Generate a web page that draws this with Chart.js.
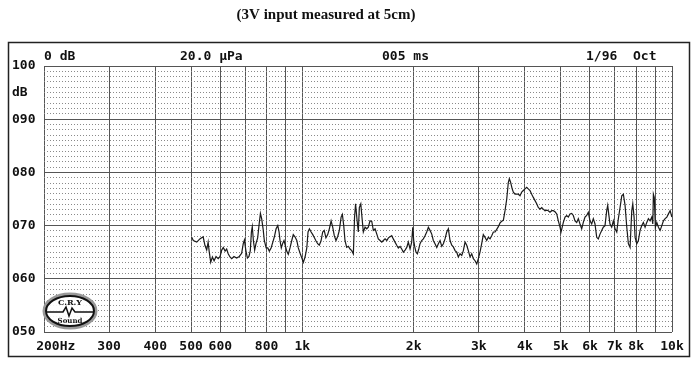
<!DOCTYPE html>
<html>
<head>
<meta charset="utf-8">
<script src="https://cdn.jsdelivr.net/npm/chart.js@4"></script>
<style>
  html, body { margin: 0; padding: 0; background: #fff; }
  #wrap { width: 700px; height: 366px; position: relative; }
</style>
</head>
<body>
<div id="wrap"><canvas id="c" width="700" height="366"></canvas></div>
<script>
const titleText = '(3V input measured at 5cm)';
const headerTexts = ['0 dB', '20.0 \u00b5Pa', '005 ms', '1/96', 'Oct'];

const gridFreqs = [200, 300, 400, 500, 600, 700, 800, 900, 1000, 2000, 3000, 4000, 5000, 6000, 7000, 8000, 9000, 10000];
const freqLabels = ['   200Hz', '300', '400', '500', '600', '', '800', '', '1k', '2k', '3k', '4k', '5k', '6k', '7k', '8k', '', '10k'];

const levelTicks = [50, 60, 70, 80, 90, 95, 100];
const levelLabels = ['050', '060', '070', '080', '090', 'dB', '100'];

const freqs = [
  502, 507, 518, 528, 539, 545, 551, 556, 560, 565, 571, 577, 584, 592, 599, 605, 611, 618, 624, 630,
  637, 644, 653, 664, 675, 685, 692, 697, 703, 710, 717, 723, 728, 732, 737, 743, 749, 757, 764, 770,
  776, 783, 789, 798, 806, 814, 823, 832, 840, 849, 858, 865, 870, 877, 885, 892, 899, 907, 916, 926,
  936, 945, 955, 966, 975, 986, 998, 1006, 1017, 1028, 1036, 1045, 1056, 1067, 1078, 1089, 1100, 1111, 1123, 1135,
  1146, 1158, 1171, 1183, 1196, 1208, 1220, 1233, 1247, 1259, 1273,
  1283, 1294, 1304, 1318, 1332, 1346, 1360, 1374, 1384, 1393, 1406, 1417, 1426, 1439, 1450, 1462, 1478, 1493, 1508, 1524,
  1541, 1556, 1573, 1590, 1605, 1623, 1640, 1656, 1674, 1692, 1709, 1727, 1745, 1762, 1781, 1800, 1818, 1838, 1857, 1876,
  1896, 1916, 1935, 1956, 1976, 1989, 2001, 2014, 2030, 2047, 2065, 2081, 2103, 2125, 2147, 2170, 2192, 2215, 2239, 2261,
  2285, 2310, 2333, 2358, 2383, 2407, 2432, 2458, 2483, 2509, 2536, 2561, 2589, 2616, 2642, 2670, 2699, 2726, 2755, 2784,
  2812, 2842, 2872, 2901, 2932, 2963, 2993, 3024, 3056, 3087, 3120, 3153, 3185, 3219, 3253, 3286, 3321, 3356, 3390, 3426,
  3462, 3497, 3534, 3572, 3607, 3630, 3657, 3692, 3722, 3761, 3801, 3839, 3880, 3921, 3960, 4002, 4045, 4085, 4129, 4173,
  4215, 4260, 4305, 4348, 4395, 4442, 4486, 4534, 4582, 4628, 4677, 4727, 4774, 4826, 4877, 4926, 4978, 5009, 5047, 5082,
  5136, 5190, 5242, 5298, 5354, 5408, 5465, 5523, 5579, 5638, 5698, 5755, 5816, 5877, 5937, 6000, 6064, 6125, 6190, 6256,
  6319, 6386, 6454, 6518, 6588, 6658, 6700, 6742, 6796, 6869, 6939, 7013, 7088, 7160, 7236, 7313, 7386, 7465, 7545, 7620,
  7701, 7783, 7832, 7896, 7946, 8030, 8110, 8197, 8284, 8367, 8456, 8546, 8632, 8724, 8817, 8872, 8905, 8955, 9017, 9096,
  9189, 9287, 9386, 9480, 9581, 9683, 9780, 9885, 9990
];
const levels = [
  67.8, 67.2, 66.9, 67.5, 67.9, 66.3, 65.4, 66.9, 65.0, 63.1, 64.1, 63.4, 64.2, 63.8, 64.2, 65.4, 65.9, 65.2, 65.6, 64.7,
  64.1, 63.8, 64.2, 63.9, 64.2, 64.8, 66.6, 67.3, 65.4, 63.9, 64.2, 65.3, 68.8, 69.8, 67.2, 65.4, 66.6, 67.7, 70.3, 72.3,
  71.3, 69.4, 67.2, 65.8, 65.8, 65.2, 65.8, 66.9, 67.9, 69.4, 70.0, 68.8, 67.2, 65.8, 66.7, 67.2, 66.3, 65.2, 64.6, 65.8,
  67.2, 68.3, 67.9, 67.2, 65.8, 64.8, 63.8, 63.1, 64.1, 65.8, 68.8, 69.4, 68.8, 68.3, 67.7, 67.1, 66.6, 66.3, 67.1, 68.8,
  69.1, 67.7, 68.3, 69.4, 70.9, 69.7, 68.1, 67.2, 68.0, 69.1, 71.6,
  72.1, 70.0, 67.2, 65.9, 66.1, 65.6, 65.3, 64.7, 71.5, 74.1, 71.0, 68.8, 73.4, 74.1, 71.5, 68.8, 69.7, 69.4, 69.7, 70.9,
  70.8, 69.1, 69.4, 68.4, 67.5, 67.2, 66.9, 67.2, 67.5, 67.2, 67.7, 67.9, 68.1, 67.5, 66.9, 66.3, 65.8, 66.1, 65.6, 65.0,
  65.4, 65.9, 66.9, 65.6, 66.9, 69.7, 67.2, 66.0, 65.0, 64.7, 65.6, 66.6, 67.2, 67.5, 68.1, 68.8, 69.7, 69.1, 68.4, 67.2,
  66.6, 65.9, 66.6, 67.2, 66.1, 66.6, 67.5, 68.8, 69.4, 67.2, 66.3, 66.0, 65.3, 65.0, 64.1, 64.7, 64.4, 65.3, 66.9, 66.3,
  65.3, 64.1, 64.7, 63.8, 63.4, 62.8, 63.8, 65.0, 66.6, 68.3, 67.8, 67.2, 67.8, 67.5, 68.1, 68.8, 68.8, 69.3, 69.8, 70.5,
  70.8, 71.0, 72.8, 75.0, 78.1, 78.8, 78.2, 77.0, 76.3, 75.9, 75.9, 75.9, 75.6, 76.3, 76.6, 76.9, 77.2, 76.9, 76.6, 75.9,
  75.3, 74.7, 74.1, 73.4, 73.1, 73.4, 73.1, 72.8, 72.9, 72.8, 72.5, 72.8, 72.8, 72.6, 72.2, 70.9, 69.7, 68.8, 69.7, 70.6,
  71.6, 71.9, 71.6, 72.2, 72.3, 71.9, 70.9, 70.6, 71.3, 70.3, 69.4, 70.6, 71.6, 71.9, 72.5, 70.9, 70.3, 71.3, 70.3, 67.8,
  67.5, 68.4, 69.1, 69.7, 70.0, 72.8, 73.8, 72.2, 70.3, 69.7, 70.9, 69.4, 68.8, 71.3, 73.4, 75.6, 75.9, 73.8, 69.7, 66.6,
  65.9, 72.8, 74.1, 71.6, 67.8, 66.6, 67.2, 69.1, 70.0, 70.6, 69.7, 70.6, 71.3, 70.9, 71.6, 70.3, 75.9, 75.3, 69.7, 70.6,
  69.7, 69.1, 70.0, 70.9, 71.3, 71.6, 72.2, 72.8, 71.6
];

const monoFont = { family: '"DejaVu Sans Mono", "Liberation Mono", monospace', size: 13, weight: 'bold' };

const decor = {
  id: 'decor',
  beforeDraw(chart) {
    const ctx = chart.ctx;
    ctx.save();
    ctx.fillStyle = '#ffffff';
    ctx.fillRect(0, 0, chart.width, chart.height);
    ctx.restore();
  },
  afterDraw(chart) {
    const ctx = chart.ctx;
    ctx.save();
    // outer frame
    ctx.strokeStyle = '#222';
    ctx.lineWidth = 1.5;
    ctx.strokeRect(8.5, 42.5, 681, 314);
    // title
    ctx.fillStyle = '#111';
    ctx.font = 'bold 15px "Liberation Serif", serif';
    ctx.textAlign = 'center';
    ctx.textBaseline = 'middle';
    ctx.fillText(titleText, 326, 15);
    // header row
    ctx.font = 'bold 13px "DejaVu Sans Mono", monospace';
    ctx.textAlign = 'left';
    const hx = [44, 180, 382, 586, 633];
    headerTexts.forEach((t, i) => ctx.fillText(t, hx[i], 57));
    // logo
    ctx.beginPath();
    ctx.ellipse(70, 311, 26, 17, 0, 0, Math.PI * 2);
    ctx.fillStyle = 'rgba(255,255,255,0.9)';
    ctx.fill();
    ctx.lineWidth = 3;
    ctx.strokeStyle = '#999';
    ctx.stroke();
    ctx.beginPath();
    ctx.ellipse(70, 311, 24, 15, 0, 0, Math.PI * 2);
    ctx.lineWidth = 2;
    ctx.strokeStyle = '#111';
    ctx.stroke();
    ctx.beginPath();
    ctx.moveTo(47, 312); ctx.lineTo(63, 312); ctx.lineTo(66, 307); ctx.lineTo(69, 316);
    ctx.lineTo(72, 308); ctx.lineTo(75, 312); ctx.lineTo(93, 312);
    ctx.lineWidth = 1.5;
    ctx.stroke();
    ctx.fillStyle = '#111';
    ctx.textAlign = 'center';
    ctx.font = 'bold 8px "DejaVu Serif", serif';
    ctx.fillText('C.R.Y', 70, 303);
    ctx.font = 'bold 7px "DejaVu Serif", serif';
    ctx.fillText('Sound', 70, 321);
    ctx.restore();
  }
};

new Chart(document.getElementById('c'), {
  type: 'line',
  data: {
    datasets: [{
      data: freqs.map((f, i) => ({ x: f, y: levels[i] })),
      borderColor: '#1a1a1a',
      borderWidth: 1.2,
      pointRadius: 0,
      tension: 0,
      fill: false
    }]
  },
  options: {
    responsive: false,
    animation: false,
    devicePixelRatio: 1,
    layout: { padding: { left: 12, right: 28, top: 66, bottom: 0 } },
    plugins: { legend: { display: false }, title: { display: false }, tooltip: { enabled: false } },
    scales: {
      x: {
        type: 'logarithmic',
        min: 200,
        max: 10000,
        afterBuildTicks: s => { s.ticks = gridFreqs.map(v => ({ value: v })); },
        afterFit: s => { s.height = 34; },
        ticks: {
          autoSkip: false,
          maxRotation: 0,
          minRotation: 0,
          padding: 7,
          color: '#111',
          font: monoFont,
          callback: (v) => { const i = gridFreqs.indexOf(v); return i >= 0 ? freqLabels[i] : ''; }
        },
        grid: { color: '#555', lineWidth: 1, drawTicks: false },
        border: { display: false }
      },
      y: {
        type: 'linear',
        position: 'left',
        min: 50,
        max: 100,
        afterBuildTicks: s => { s.ticks = levelTicks.map(v => ({ value: v })); },
        afterFit: s => { s.width = 32; },
        ticks: {
          autoSkip: false,
          crossAlign: 'far',
          padding: 0,
          color: '#111',
          font: monoFont,
          callback: (v) => { const i = levelTicks.indexOf(v); return i >= 0 ? levelLabels[i] : ''; }
        },
        grid: {
          color: c => (c.tick && c.tick.value % 10 === 0) ? '#555' : 'rgba(0,0,0,0)',
          lineWidth: 1,
          drawTicks: false
        },
        border: { display: false }
      },
      yMinor: {
        type: 'linear',
        position: 'left',
        min: 50,
        max: 100,
        afterFit: s => { s.width = 0; },
        ticks: { display: false, stepSize: 1, autoSkip: false },
        grid: {
          color: c => (c.tick && c.tick.value % 10 === 0) ? 'rgba(0,0,0,0)' : '#8a8a8a',
          lineWidth: 1,
          drawTicks: false
        },
        border: { display: false, dash: [1, 2] }
      }
    }
  },
  plugins: [decor]
});
</script>
</body>
</html>
